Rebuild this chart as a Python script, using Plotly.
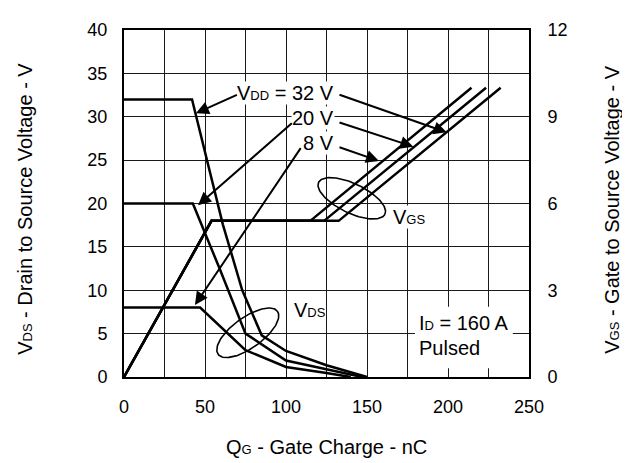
import numpy as np
import plotly.graph_objects as go

# ---------------- data ----------------
# Drain-to-source voltage curves (left axis, V) vs gate charge (nC)
q_vds_32 = [0, 42, 61, 73, 85, 100, 125, 150]
vds_32 = [32, 32, 17.6, 10, 4.8, 3.0, 1.35, 0]
q_vds_20 = [0, 42.5, 59, 75, 100, 125, 147]
vds_20 = [20, 20, 12.5, 5, 1.9, 0.9, 0]
q_vds_8 = [0, 47, 75, 100, 125, 140]
vds_8 = [8, 8, 3.1, 1.15, 0.45, 0]

# Gate-to-source voltage curves (right axis, V)
q_vgs_8 = [0, 54, 115, 214.5]
q_vgs_20 = [0, 54, 123.5, 223.5]
q_vgs_32 = [0, 54, 132.5, 232.5]
vgs_vals = [0, 5.4, 5.4, 10.0]

x_ticks = [0, 50, 100, 150, 200, 250]
y_left_ticks = [0, 5, 10, 15, 20, 25, 30, 35, 40]
y_right_ticks = [0, 3, 6, 9, 12]

FONT = "Liberation Sans, Arial, sans-serif"
FS_TICK = 18
FS = 20
SUB = 13
LW = 2.5


def sc(main, small):
    return f"{main}<span style='font-size:{SUB}px'>{small}</span>"


fig = go.Figure()

for q, v in [(q_vds_32, vds_32), (q_vds_20, vds_20), (q_vds_8, vds_8)]:
    fig.add_trace(go.Scatter(x=q, y=v, mode="lines",
                             line=dict(color="black", width=LW),
                             showlegend=False, hoverinfo="skip"))
for q in [q_vgs_8, q_vgs_20, q_vgs_32]:
    fig.add_trace(go.Scatter(x=q, y=vgs_vals, mode="lines", yaxis="y2",
                             line=dict(color="black", width=LW),
                             showlegend=False, hoverinfo="skip"))

# ---- layout geometry (page body has an 8px margin) ----
X0, X1, Y0, Y1 = 0, 250, 0, 40
W, H = 614, 455
L, T, R, B = 116, 12, 93, 86
pw, ph = W - L - R, H - T - B
sx, sy = pw / (X1 - X0), ph / (Y1 - Y0)


def ellipse(cq, cv, a, b, ang_deg):
    t = np.linspace(0, 2 * np.pi, 120)
    th = np.deg2rad(ang_deg)
    dx = a * np.cos(t) * np.cos(th) - b * np.sin(t) * np.sin(th)
    dy = a * np.cos(t) * np.sin(th) + b * np.sin(t) * np.cos(th)
    return cq + dx / sx, cv + dy / sy


for cq, cv, a, b, ang in [(140.6, 20.6, 37, 15, -26.6), (76.4, 5.1, 37, 15.5, 37)]:
    ex, ey = ellipse(cq, cv, a, b, ang)
    fig.add_trace(go.Scatter(x=ex, y=ey, mode="lines",
                             line=dict(color="black", width=1.6),
                             showlegend=False, hoverinfo="skip"))

# white box behind the I_D / Pulsed note
fig.add_shape(type="rect", x0=179.6, x1=240, y0=1.0, y1=8.1, xref="x", yref="y",
              fillcolor="white", line=dict(width=0), layer="between")

ann = []
tf = dict(family=FONT, size=FS, color="black")
for txt, v in [(sc("V", "DD") + " = 32 V", 32.7), ("20 V", 29.9), ("8 V", 27.0)]:
    ann.append(dict(x=130.2, y=v, xref="x", yref="y", text=txt, showarrow=False,
                    xanchor="right", yanchor="middle", font=tf, bgcolor="white",
                    borderpad=0))
# arrows: (head q, head v, tail q, tail v)
arrows = [
    (44.4, 30.4, 70.6, 32.6),
    (199.2, 28.2, 132.1, 32.6),
    (45.7, 19.8, 104.5, 29.4),
    (178.6, 26.55, 132.1, 29.4),
    (43.8, 8.3, 109.7, 26.55),
    (157.4, 24.9, 132.1, 26.55),
]
for hx, hy, tx, ty in arrows:
    ann.append(dict(x=hx, y=hy, ax=tx, ay=ty, xref="x", yref="y", axref="x", ayref="y",
                    text="", showarrow=True, arrowhead=2, arrowsize=1.3,
                    arrowwidth=2, arrowcolor="black", standoff=0, startstandoff=0))

ann.append(dict(x=165.2, y=18.4, xref="x", yref="y", text=sc("V", "GS"), showarrow=False,
                xanchor="left", yanchor="middle", font=tf, bgcolor="white", borderpad=0))
ann.append(dict(x=103.5, y=7.7, xref="x", yref="y", text=sc("V", "DS"), showarrow=False,
                xanchor="left", yanchor="middle", font=tf))
ann.append(dict(x=180.6, y=6.2, xref="x", yref="y", text=sc("I", "D") + " = 160 A",
                showarrow=False, xanchor="left", yanchor="middle", font=tf))
ann.append(dict(x=180.6, y=3.3, xref="x", yref="y", text="Pulsed",
                showarrow=False, xanchor="left", yanchor="middle", font=tf))

# axis titles (positions relative to the plotting area)
ann.append(dict(x=0.5, y=(377 - 449) / ph, xref="paper", yref="paper",
                text=sc("Q", "G") + " - Gate Charge - nC", showarrow=False,
                xanchor="center", yanchor="middle", font=tf))
ann.append(dict(x=(25 - 124) / pw, y=(377 - 204) / ph, xref="paper", yref="paper",
                text=sc("V", "DS") + " - Drain to Source Voltage - V", showarrow=False,
                textangle=-90, xanchor="center", yanchor="middle", font=tf))
ann.append(dict(x=(612 - 124) / pw, y=(377 - 205) / ph, xref="paper", yref="paper",
                text=sc("V", "GS") + " - Gate to Source Voltage - V", showarrow=False,
                textangle=-90, xanchor="center", yanchor="middle", font=tf))

GRID = "#1a1a1a"
tickf = dict(family=FONT, size=FS_TICK, color="black")
fig.update_layout(
    width=W, height=H,
    margin=dict(l=L, r=R, t=T, b=B, pad=0),
    paper_bgcolor="white", plot_bgcolor="white",
    font=dict(family=FONT, size=FS, color="black"),
    annotations=ann,
    xaxis=dict(range=[X0, X1], tickvals=x_ticks, showgrid=True, gridcolor=GRID, gridwidth=1,
               minor=dict(dtick=25, tick0=0, showgrid=True, gridcolor=GRID, gridwidth=1),
               showline=True, linecolor="black", linewidth=2, mirror=True,
               zeroline=False, ticks="", ticklabelstandoff=12, tickfont=tickf),
    yaxis=dict(range=[Y0, Y1], tickvals=y_left_ticks, showgrid=True, gridcolor=GRID,
               gridwidth=1, showline=True, linecolor="black", linewidth=2, mirror=True,
               zeroline=False, ticks="", ticklabelstandoff=11, tickfont=tickf),
    yaxis2=dict(range=[0, 12], tickvals=y_right_ticks, overlaying="y", side="right",
                showgrid=False, showline=True, linecolor="black", linewidth=2,
                zeroline=False, ticks="", ticklabelstandoff=13, tickfont=tickf),
)

fig.write_html("out.html")
